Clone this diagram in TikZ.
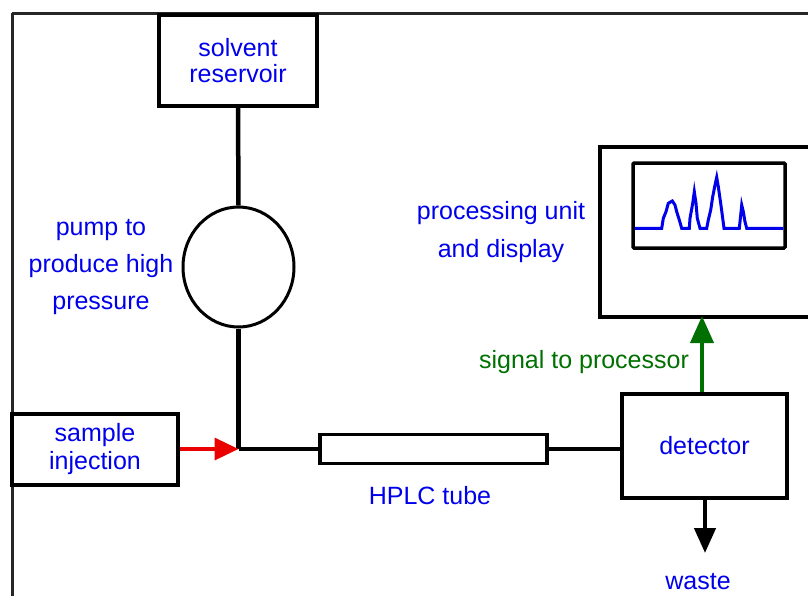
\documentclass[tikz,border=0pt]{standalone}
\usepackage{fontspec}
\setmainfont{Liberation Sans}
\usetikzlibrary{arrows.meta,shapes.geometric}
\definecolor{txtblue}{RGB}{0,0,235}
\definecolor{sigreen}{RGB}{0,112,0}
\definecolor{injred}{RGB}{235,0,0}
\tikzset{
  lbl/.style={text=txtblue, font=\fontsize{25}{26}\selectfont, inner sep=0pt},
  boxnode/.style={draw=black, line width=3.5pt, fill=white, lbl, align=center},
  pipe/.style={draw=black, line width=4.5pt},
}
\begin{document}
\begin{tikzpicture}[x=1pt,y=-1pt]
\useasboundingbox (0,0) rectangle (808,595);
% outer frame
\draw[line width=3pt, black!85] (12,13) -- (830,13);
\draw[line width=3pt, black!85] (12,13) -- (12,620);
% solvent reservoir
\node[boxnode, minimum width=158pt, minimum height=91pt, font=\fontsize{25}{26}\selectfont] (solv) at (238,60.5) {solvent\\reservoir};
% pump
\node[draw=black, line width=3pt, ellipse, minimum width=111pt, minimum height=120pt, inner sep=0pt] (pump) at (238.5,267) {};
\node[lbl, align=center, font=\fontsize{25}{37}\selectfont] (pumplbl) at (101,267.5) {pump to\\produce high\\pressure};
% sample injection
\node[boxnode, minimum width=166pt, minimum height=71pt, font=\fontsize{25}{28}\selectfont] (inj) at (95,449.5) {sample\\injection};
% junction
\coordinate (junc) at (238.5,449);
% HPLC tube
\node[draw=black, line width=3.5pt, minimum width=227pt, minimum height=29pt, inner sep=0pt] (tube) at (433.5,449) {};
\node[lbl, anchor=base] (tubelbl) at (430,504) {HPLC tube};
% detector
\node[boxnode, minimum width=165pt, minimum height=104pt] (det) at (704.5,446) {detector};
% processing unit
\node[draw=black, line width=3.5pt, minimum width=240pt, minimum height=170pt, anchor=north west, inner sep=0pt] (proc) at (598,145) {};
\node[draw=black, line width=3.5pt, minimum width=152pt, minimum height=85pt, inner sep=0pt, rounded corners=1pt] (screen) at (709,205.5) {};
\draw[txtblue, line width=3pt, line join=miter]
 (634.7,228.3) -- (661.7,228.3) -- (663.3,218.3) -- (666,211.7) -- (668.3,203.3) -- (672.3,201) -- (675,205) -- (676.7,211.7) -- (679.3,220) -- (681.7,228.3)
 -- (689.3,228.3) -- (690,218.3) -- (692.7,203.3) -- (694.3,191.7) -- (696,203.3) -- (697.3,218.3) -- (700,228.3)
 -- (706.7,228.3) -- (708.3,220) -- (710.7,210) -- (712.7,196.7) -- (715,185) -- (716.7,177.3) -- (718.3,186.7) -- (720.7,203.3) -- (722.7,218.3) -- (724,228.3)
 -- (739.3,228.3) -- (740.7,215) -- (741.7,205) -- (743.3,211.7) -- (745,221.7) -- (746.7,228.3) -- (783.3,228.3);
\node[lbl, align=center, font=\fontsize{25}{38}\selectfont] (proclbl) at (501,232) {processing unit\\and display};
% connectors
\draw[pipe] (solv.south) -- (pump.north);
\draw[pipe] (pump.south) -- (junc);
\draw[pipe] (junc) -- (tube.west);
\draw[pipe] (tube.east) -- (tube.east -| det.west);
\draw[injred, line width=3.5pt, -{Triangle[length=24pt,width=22pt]}] (inj.east |- junc) -- (junc);
\coordinate (sigtop) at (702,316);
\draw[sigreen, line width=4pt, -{Triangle[length=27pt,width=23pt]}] (det.north -| sigtop) -- (sigtop);
\node[text=sigreen, font=\fontsize{25}{26}\selectfont, inner sep=0pt, anchor=base] (siglbl) at (584,368) {signal to processor};
\coordinate (wastetip) at (705,553);
\draw[black, line width=4.5pt, -{Triangle[length=25pt,width=21pt]}] (det.south -| wastetip) -- (wastetip);
\node[lbl, anchor=base] (wastelbl) at (698,589) {waste};
\end{tikzpicture}
\end{document}
